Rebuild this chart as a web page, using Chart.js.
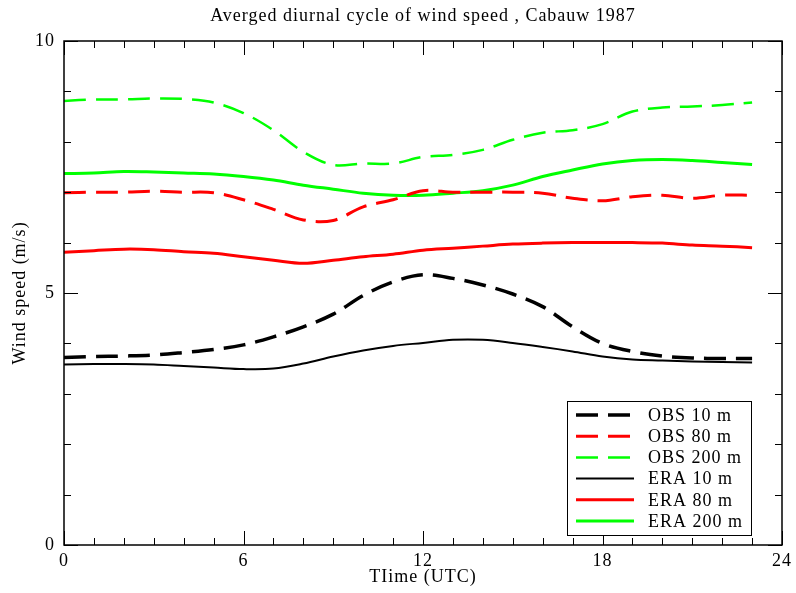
<!DOCTYPE html>
<html>
<head>
<meta charset="UTF-8">
<title>Wind speed Cabauw 1987</title>
<script src="https://cdn.jsdelivr.net/npm/chart.js@4/dist/chart.umd.min.js"></script>
<style>
  body { margin: 0; background: #fff; }
</style>
</head>
<body>

<canvas id="myChart" width="796" height="593"></canvas>

<script>
  // hourly means, 0..23 UTC
  let hours = [0,1,2,3,4,5,6,7,8,9,10,11,12,13,14,15,16,17,18,19,20,21,22,23];
  let obs10  = [3.72,3.74,3.75,3.77,3.82,3.88,3.97,4.13,4.33,4.58,4.95,5.22,5.36,5.29,5.16,4.98,4.73,4.33,4.00,3.84,3.75,3.71,3.70,3.70];
  let obs80  = [6.99,7.00,7.00,7.02,7.00,6.99,6.85,6.66,6.45,6.44,6.71,6.85,7.03,7.00,7.00,7.00,6.98,6.88,6.83,6.91,6.94,6.88,6.94,6.94];
  let obs200 = [8.81,8.84,8.84,8.86,8.85,8.78,8.57,8.23,7.80,7.54,7.57,7.57,7.70,7.74,7.84,8.04,8.18,8.23,8.35,8.60,8.68,8.70,8.73,8.78];
  let era10  = [3.58,3.59,3.59,3.58,3.55,3.52,3.49,3.50,3.60,3.74,3.86,3.95,4.01,4.07,4.07,4.01,3.93,3.84,3.74,3.68,3.66,3.64,3.63,3.62];
  let era80  = [5.81,5.84,5.87,5.86,5.82,5.79,5.72,5.65,5.59,5.65,5.72,5.77,5.85,5.89,5.93,5.97,5.99,6.00,6.00,6.00,5.99,5.95,5.93,5.90];
  let era200 = [7.37,7.38,7.41,7.40,7.38,7.36,7.31,7.24,7.14,7.06,6.98,6.94,6.94,6.98,7.03,7.14,7.31,7.44,7.56,7.63,7.65,7.63,7.59,7.55];

  let xTicks = [0, 6, 12, 18, 24];
  let yTicks = [0, 5, 10];
  let chartTitle = 'Averged diurnal cycle of wind speed , Cabauw 1987';

  const serif = '"Liberation Serif", "DejaVu Serif", serif';

  function pts(arr) {
    return arr.map(function(v, i) { return {x: hours[i], y: v}; });
  }

  function series(label, arr, color, width, dash) {
    return {
      label: label,
      data: pts(arr),
      borderColor: color,
      borderWidth: width,
      borderDash: dash,
      pointRadius: 0,
      tension: 0.35,
      fill: false
    };
  }

  // the original font is set wide, so space all canvas text a little
  const spacing = {
    id: 'spacing',
    beforeDraw(chart) { chart.ctx.letterSpacing = '1px'; }
  };

  // frame + inward ticks on all four sides, title and legend box
  const decor = {
    id: 'decor',
    afterDraw(chart) {
      const ctx = chart.ctx;
      const a = chart.chartArea;
      const x = chart.scales.x, y = chart.scales.y;
      ctx.save();
      ctx.strokeStyle = '#000';
      ctx.lineWidth = 1.5;
      ctx.strokeRect(a.left, a.top, a.right - a.left, a.bottom - a.top);
      ctx.lineWidth = 1;
      ctx.beginPath();
      for (let h = 0; h <= 24; h++) {
        const px = Math.round(x.getPixelForValue(h)) + 0.5;
        const len = h % 6 === 0 ? 14 : 7;
        ctx.moveTo(px, a.bottom); ctx.lineTo(px, a.bottom - len);
        ctx.moveTo(px, a.top); ctx.lineTo(px, a.top + len);
      }
      for (let v = 0; v <= 10; v++) {
        const py = Math.round(y.getPixelForValue(v)) + 0.5;
        const len = v % 5 === 0 ? 14 : 7;
        ctx.moveTo(a.left, py); ctx.lineTo(a.left + len, py);
        ctx.moveTo(a.right, py); ctx.lineTo(a.right - len, py);
      }
      ctx.stroke();

      // title
      ctx.fillStyle = '#000';
      ctx.font = '18px ' + serif;
      ctx.textAlign = 'center';
      ctx.textBaseline = 'middle';
      ctx.letterSpacing = '1px';
      ctx.fillText(chartTitle, (a.left + a.right) / 2, 16);

      // legend
      const bx = a.right - 215, by = a.bottom - 144, bw = 184, bh = 134;
      ctx.fillStyle = '#fff';
      ctx.fillRect(bx, by, bw, bh);
      ctx.strokeStyle = '#000';
      ctx.lineWidth = 1;
      ctx.strokeRect(bx + 0.5, by + 0.5, bw, bh);
      ctx.textAlign = 'left';
      chart.data.datasets.forEach(function(ds, i) {
        const ly = by + 14 + i * 21.2;
        ctx.strokeStyle = ds.borderColor;
        ctx.lineWidth = ds.borderWidth;
        ctx.setLineDash(ds.borderDash || []);
        ctx.beginPath();
        ctx.moveTo(bx + 9, ly);
        ctx.lineTo(bx + 67, ly);
        ctx.stroke();
        ctx.setLineDash([]);
        ctx.fillStyle = '#000';
        ctx.fillText(ds.label, bx + 81, ly + 1);
      });
      ctx.restore();
    }
  };

  new Chart('myChart', {
    type: 'line',
    data: {
      datasets: [
        series('OBS 10 m', obs10, '#000000', 3.5, [22, 10]),
        series('OBS 80 m', obs80, '#ff0000', 3, [22, 10]),
        series('OBS 200 m', obs200, '#00ff00', 2.5, [22, 10]),
        series('ERA 10 m', era10, '#000000', 2, []),
        series('ERA 80 m', era80, '#ff0000', 3, []),
        series('ERA 200 m', era200, '#00ff00', 3, [])
      ]
    },
    options: {
      responsive: false,
      animation: false,
      layout: { padding: { top: 41, right: 13, left: 0, bottom: 0 } },
      plugins: {
        legend: { display: false },
        title: { display: false },
        tooltip: { enabled: false }
      },
      scales: {
        x: {
          type: 'linear',
          min: 0, max: 24,
          afterFit: function(s) { s.height = 48; },
          afterBuildTicks: function(s) { s.ticks = xTicks.map(function(v) { return {value: v}; }); },
          grid: { display: false, drawTicks: false },
          border: { display: false },
          ticks: { color: '#000', padding: 5, maxRotation: 0, font: { family: serif, size: 18 } },
          title: { display: true, text: 'TIime (UTC)', color: '#000', padding: { top: 0, bottom: 5 }, font: { family: serif, size: 18 } }
        },
        y: {
          min: 0, max: 10,
          afterFit: function(s) { s.width = 64; },
          afterBuildTicks: function(s) { s.ticks = yTicks.map(function(v) { return {value: v}; }); },
          grid: { display: false, drawTicks: false },
          border: { display: false },
          ticks: { color: '#000', padding: 9, font: { family: serif, size: 18 } },
          title: { display: true, text: 'Wind speed (m/s)', color: '#000', padding: { top: 9, bottom: 0 }, font: { family: serif, size: 18 } }
        }
      }
    },
    plugins: [spacing, decor]
  });
</script>
</body>
</html>
